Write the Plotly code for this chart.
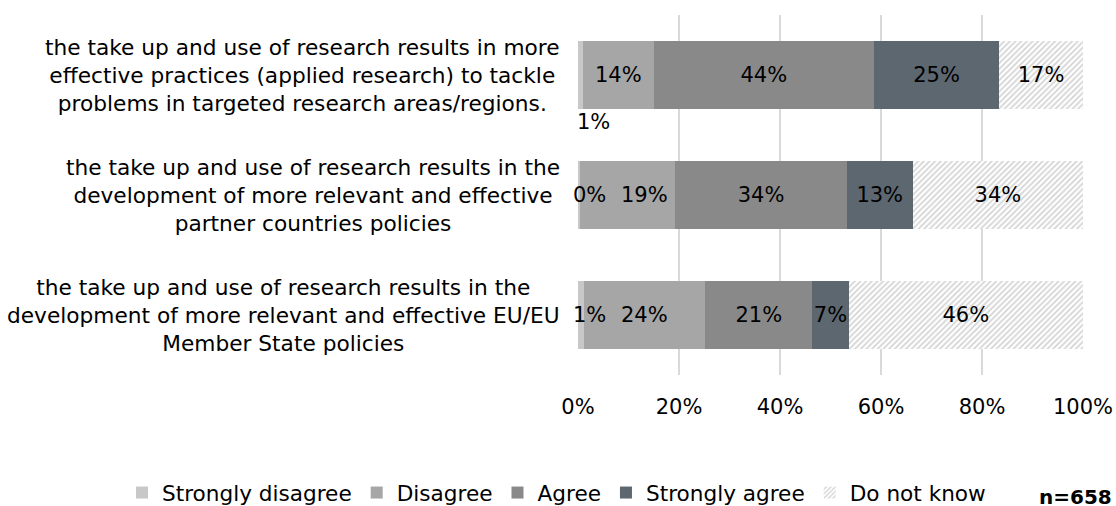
import numpy as np
import plotly.graph_objects as go

categories = [
    "the take up and use of research results in more<br>effective practices (applied research) to tackle<br>problems in targeted research areas/regions.",
    "the take up and use of research results in the<br>development of more relevant and effective<br>partner countries policies",
    "the take up and use of research results in the<br>development of more relevant and effective EU/EU<br>Member State policies",
]
series_names = ["Strongly disagree", "Disagree", "Agree", "Strongly agree", "Do not know"]
strongly_disagree = [1.0, 0.3, 1.1]
disagree = [14.0, 19.0, 24.1]
agree = [43.6, 33.9, 21.2]
strongly_agree = [24.8, 13.1, 7.2]
do_not_know = [16.6, 33.7, 46.4]
x_ticks = [0, 20, 40, 60, 80, 100]
n_label = "n=658"

FONT = "DejaVu Sans"
colors = ["#c8c8c8", "#a6a6a6", "#898989", "#5d6770", "#ffffff"]
values = [strongly_disagree, disagree, agree, strongly_agree, do_not_know]
ycat = list(range(len(categories)))

W, H = 1116, 506
ML, MR, MT, MB = 578, 33, 15, 131
PW, PH = W - ML - MR, H - MT - MB


def px_to_paper_x(px):
    return (px - ML) / PW


def px_to_paper_y(py):
    return (H - MB - py) / PH


fig = go.Figure()
for i, (name, vals) in enumerate(zip(series_names, values)):
    kw = dict(
        x=vals, y=ycat, orientation="h", name=name,
        marker=dict(color=colors[i], line=dict(width=0)),
        hoverinfo="skip",
    )
    if i == 4:
        kw["marker"] = dict(color="#ffffff", line=dict(width=0),
                            pattern=dict(shape="/", fgcolor="#a9a9a9", bgcolor="#ffffff",
                                         size=4, solidity=0.45))
    if i >= 2:
        kw.update(text=[f"{round(v)}%" for v in vals], textposition="inside",
                  insidetextanchor="middle", textangle=0,
                  textfont=dict(family=FONT, size=21, color="#000000"))
    else:
        kw.update(textposition="none")
    fig.add_trace(go.Bar(**kw))

annotations = []
# category labels
for j, cat in enumerate(categories):
    annotations.append(dict(x=0, xref="paper", y=j, yref="y", text=cat, showarrow=False,
                            xanchor="right", yanchor="middle", align="center", xshift=-16, yshift=0,
                            font=dict(family=FONT, size=21.7, color="#000000")))
# Disagree labels
d_shift = [0, 17, 0]
for j in ycat:
    cx = strongly_disagree[j] + disagree[j] / 2
    annotations.append(dict(x=cx, y=j, text=f"{round(disagree[j])}%", showarrow=False,
                            xanchor="center", yanchor="middle", xshift=d_shift[j],
                            font=dict(family=FONT, size=21, color="#000000")))
# Strongly disagree labels
for j in ycat:
    if j == 0:
        annotations.append(dict(x=0, y=j, text=f"{round(strongly_disagree[j])}%", showarrow=False,
                                xanchor="left", yanchor="middle", xshift=-3, yshift=-47,
                                font=dict(family=FONT, size=21, color="#000000")))
    else:
        annotations.append(dict(x=0, y=j, text=f"{round(strongly_disagree[j])}%", showarrow=False,
                                xanchor="center", yanchor="middle", xshift=11,
                                font=dict(family=FONT, size=21, color="#000000")))
annotations.append(dict(x=px_to_paper_x(1114), xref="paper", y=px_to_paper_y(497), yref="paper",
                        text=f"<b>{n_label}</b>", showarrow=False, xanchor="right", yanchor="middle",
                        font=dict(family=FONT, size=20, color="#000000")))

fig.update_layout(
    barmode="stack",
    bargap=0.44,
    width=W, height=H,
    margin=dict(l=ML, r=MR, t=MT, b=MB, autoexpand=False),
    paper_bgcolor="white", plot_bgcolor="white",
    font=dict(family=FONT, size=21, color="#000000"),
    uniformtext=dict(minsize=21, mode="show"),
    xaxis=dict(range=[0, 100], tickvals=x_ticks, ticktext=[f"{t}%" for t in x_ticks],
               showgrid=True, gridcolor="#d9d9d9", gridwidth=2, zeroline=False,
               showline=False, ticks="", ticklabelstandoff=17,
               tickfont=dict(family=FONT, size=21, color="#000000")),
    yaxis=dict(range=[2.5, -0.5], showticklabels=False, showgrid=False, zeroline=False,
               showline=False, ticks=""),
    legend=dict(orientation="h", xref="paper", x=px_to_paper_x(122), xanchor="left",
                yref="paper", y=px_to_paper_y(493), yanchor="middle",
                font=dict(family=FONT, size=21.6, color="#000000"),
                traceorder="normal", itemwidth=30, itemclick=False,
                bgcolor="rgba(0,0,0,0)"),
    annotations=annotations,
    showlegend=True,
)

fig.write_html("out.html", config={"displayModeBar": False},
               post_script="document.body.style.margin='0px';")
